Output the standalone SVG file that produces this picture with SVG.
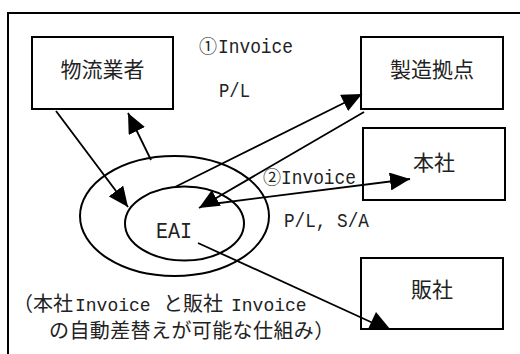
<svg xmlns="http://www.w3.org/2000/svg" width="520" height="354" viewBox="0 0 520 354">
<style>
.box{fill:#fff;stroke:#000;stroke-width:2}
.ell{fill:none;stroke:#000;stroke-width:2}
.ln{fill:none;stroke:#000;stroke-width:1.8}
.cjk{font-family:"Noto Sans CJK JP","Noto Sans CJK SC",sans-serif;fill:#222}
.lat{font-family:"Liberation Mono","DejaVu Sans Mono","Noto Sans CJK JP",monospace;fill:#222}
</style>
<defs>
<marker id="ah" markerUnits="userSpaceOnUse" markerWidth="20" markerHeight="18" refX="20" refY="9" orient="auto" viewBox="0 0 20 18">
<path d="M0,0 L20,9 L0,18 z" fill="#000"/>
</marker>
</defs>
<rect width="520" height="354" fill="#fff"/>
<path d="M8,354 V13 H520" fill="none" stroke="#000" stroke-width="2"/>
<g id="eai">
<ellipse class="ell" cx="174.5" cy="216" rx="94.5" ry="60"/>
<ellipse class="ell" cx="184.5" cy="223.5" rx="59.5" ry="37"/>
<text class="lat" x="156" y="238" font-size="22" textLength="36" lengthAdjust="spacingAndGlyphs">EAI</text>
</g>
<g id="butsuryu">
<rect class="box" x="32" y="37" width="141" height="72"/>
<text class="cjk" x="102.5" y="77" font-size="21" text-anchor="middle">物流業者</text>
</g>
<g id="seizou">
<rect class="box" x="361" y="37" width="142" height="72"/>
<text class="cjk" x="432" y="77" font-size="21" text-anchor="middle">製造拠点</text>
</g>
<g id="honsha">
<rect class="box" x="363" y="128" width="142" height="72"/>
<text class="cjk" x="434" y="170" font-size="21" text-anchor="middle">本社</text>
</g>
<g id="hansha">
<rect class="box" x="361" y="258" width="142" height="71"/>
<text class="cjk" x="432" y="297" font-size="21" text-anchor="middle">販社</text>
</g>
<g id="connectors">
<line class="ln" x1="56" y1="111" x2="128" y2="207" marker-end="url(#ah)"/>
<line class="ln" x1="151" y1="160" x2="128" y2="113" marker-end="url(#ah)"/>
<line class="ln" x1="175" y1="187" x2="362" y2="94" marker-end="url(#ah)"/>
<line class="ln" x1="364" y1="112" x2="199" y2="208" marker-end="url(#ah)"/>
<line class="ln" x1="212" y1="204" x2="410" y2="179" marker-end="url(#ah)"/>
<line class="ln" x1="198" y1="243" x2="373" y2="323"/>
<polygon points="368,329 376,312 390,329" fill="#000"/>
</g>
<g id="labels">
<text class="lat" x="199" y="53" font-size="21"><tspan class="cjk" font-size="18">①</tspan><tspan x="218" textLength="75" lengthAdjust="spacingAndGlyphs">Invoice</tspan></text>
<text class="lat" x="219" y="97" font-size="21" textLength="31" lengthAdjust="spacingAndGlyphs">P/L</text>
<text class="lat" x="263" y="184" font-size="21"><tspan class="cjk" font-size="18">②</tspan><tspan x="281" textLength="75" lengthAdjust="spacingAndGlyphs">Invoice</tspan></text>
<text class="lat" x="284" y="227" font-size="21" textLength="85" lengthAdjust="spacingAndGlyphs">P/L, S/A</text>
<text y="311" font-size="20"><tspan class="cjk" x="13">（本社 </tspan><tspan class="lat" x="75" font-size="18">Invoice </tspan><tspan class="cjk" x="163">と販社 </tspan><tspan class="lat" x="231" font-size="18">Invoice</tspan></text>
<text class="cjk" x="49" y="338" font-size="20" letter-spacing="0.4">の自動差替えが可能な仕組み）</text>
</g>
</svg>
